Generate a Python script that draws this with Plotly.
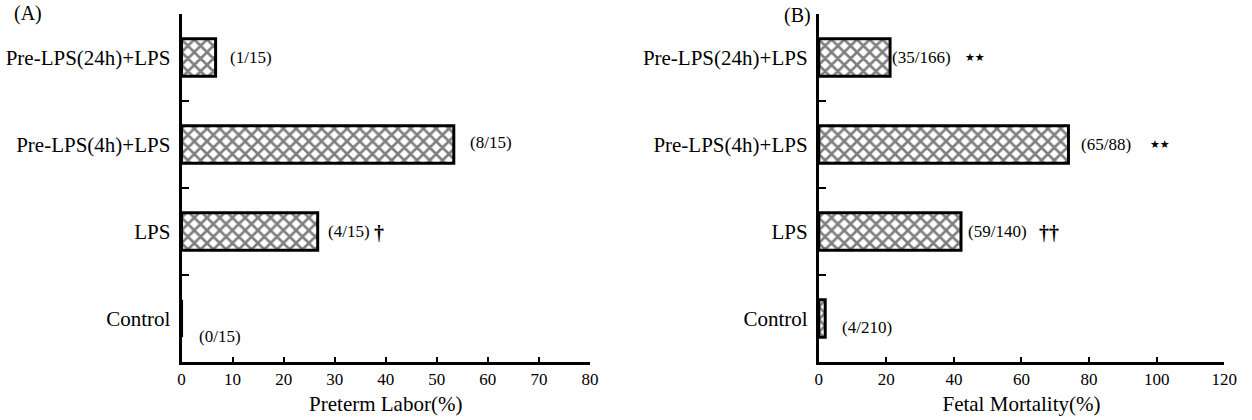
import plotly.graph_objects as go

# ---- data ----
categories = ["Control", "LPS", "Pre-LPS(4h)+LPS", "Pre-LPS(24h)+LPS"]
preterm_labor = [0.0, 26.67, 53.33, 6.67]          # %
preterm_text = ["(0/15)", "(4/15)", "(8/15)", "(1/15)"]
preterm_sig = ["", "†", "", ""]
fetal_mortality = [1.9, 42.1, 73.9, 21.1]          # %
fetal_text = ["(4/210)", "(59/140)", "(65/88)", "(35/166)"]
fetal_sig = ["", "††", "★★", "★★"]
xticks_a = [0, 10, 20, 30, 40, 50, 60, 70, 80]
xticks_b = [0, 20, 40, 60, 80, 100, 120]

# ---- layout helpers (positions / styles) ----
FONT = "Liberation Serif"
W, H = 1252, 420
def px(x):
    return x / W
def py(y):
    return 1 - y / H

a_text_dx = [3.1, 1.7, 2.7, 2.4]
a_text_dy = [-18, 0, 2, 0]
a_sig_x = [None, 38.6, None, None]
b_text_dx = [4.5, 1.4, 3.2, -0.1]
b_text_dy = [-9, 0, 0, 0]
b_sig_x = [None, 64.5, 97.5, 42.6]

fig = go.Figure()

bar_style = dict(
    orientation="h",
    width=0.43,
    marker=dict(
        color="white",
        line=dict(color="black", width=3),
        pattern=dict(shape="x", fgcolor="black", bgcolor="white", size=9, solidity=0.5),
    ),
    showlegend=False,
    hoverinfo="x+y",
)

fig.add_trace(go.Bar(x=preterm_labor, y=categories, xaxis="x", yaxis="y", **bar_style))
fig.add_trace(go.Bar(x=fetal_mortality, y=categories, xaxis="x2", yaxis="y2", **bar_style))

ann = []
for i, c in enumerate(categories):
    ann.append(dict(x=preterm_labor[i] + a_text_dx[i], y=c, xref="x", yref="y",
                    text=preterm_text[i], showarrow=False, xanchor="left",
                    yshift=a_text_dy[i], font=dict(family=FONT, size=17, color="black")))
    if preterm_sig[i]:
        ann.append(dict(x=a_sig_x[i], y=c, xref="x", yref="y", text="<b>" + preterm_sig[i] + "</b>",
                        showarrow=False, xanchor="center", yshift=-1,
                        font=dict(family=FONT, size=20, color="black")))
    ann.append(dict(x=fetal_mortality[i] + b_text_dx[i], y=c, xref="x2", yref="y2",
                    text=fetal_text[i], showarrow=False, xanchor="left",
                    yshift=b_text_dy[i], font=dict(family=FONT, size=17, color="black")))
    if fetal_sig[i]:
        star = "★" in fetal_sig[i]
        ann.append(dict(x=b_sig_x[i], y=c, xref="x2", yref="y2",
                        text=fetal_sig[i] if star else "<b>" + fetal_sig[i] + "</b>",
                        showarrow=False, xanchor="left",
                        yshift=0 if star else -1,
                        font=dict(family="DejaVu Sans" if star else FONT,
                                  size=11 if star else 20, color="black")))

ann.append(dict(x=px(8), y=py(14), xref="paper", yref="paper", text="(A)", showarrow=False,
                xanchor="left", yanchor="middle", font=dict(family=FONT, size=20, color="black")))
ann.append(dict(x=px(789), y=py(16), xref="paper", yref="paper", text="(B)", showarrow=False,
                xanchor="left", yanchor="middle", font=dict(family=FONT, size=20, color="black")))

xaxis_common = dict(
    showline=True, linecolor="black", linewidth=3,
    ticks="inside", ticklen=5, tickwidth=2, tickcolor="black",
    showgrid=False, zeroline=False,
    tickfont=dict(family=FONT, size=17, color="black"),
    ticklabelstandoff=0,
)
yaxis_common = dict(
    showline=True, linecolor="black", linewidth=3,
    ticks="inside", ticklen=7, tickwidth=2, tickcolor="black",
    tickson="boundaries",
    showgrid=False, zeroline=False,
    type="category", categoryorder="array", categoryarray=categories,
    range=[-0.5, 3.5],
    tickfont=dict(family=FONT, size=21, color="black"),
    ticklabelstandoff=4,
    domain=[py(362), py(14)],
)

fig.update_layout(
    width=W, height=H, autosize=False,
    margin=dict(l=0, r=0, t=0, b=0),
    plot_bgcolor="white", paper_bgcolor="white",
    font=dict(family=FONT, color="black"),
    xaxis=dict(**xaxis_common,
               domain=[px(180), px(594)], range=[0, 80], tickvals=xticks_a,
               anchor="y",
               title=dict(text="Preterm Labor(%)", font=dict(family=FONT, size=21, color="black"), standoff=8)),
    yaxis=dict(**yaxis_common, anchor="x"),
    xaxis2=dict(**xaxis_common,
                domain=[px(826), px(1237)], range=[0, 120], tickvals=xticks_b,
                anchor="y2",
                title=dict(text="Fetal Mortality(%)", font=dict(family=FONT, size=21, color="black"), standoff=8)),
    yaxis2=dict(**yaxis_common, anchor="x2"),
    annotations=ann,
)

fig.write_html(
    "out.html",
    config={"displayModeBar": False, "responsive": False},
    default_width="1252px", default_height="420px",
    post_script=("document.documentElement.style.overflow='hidden';"
                 "document.body.style.overflow='hidden';"
                 "document.body.style.margin='0';document.body.style.padding='0';"),
)
